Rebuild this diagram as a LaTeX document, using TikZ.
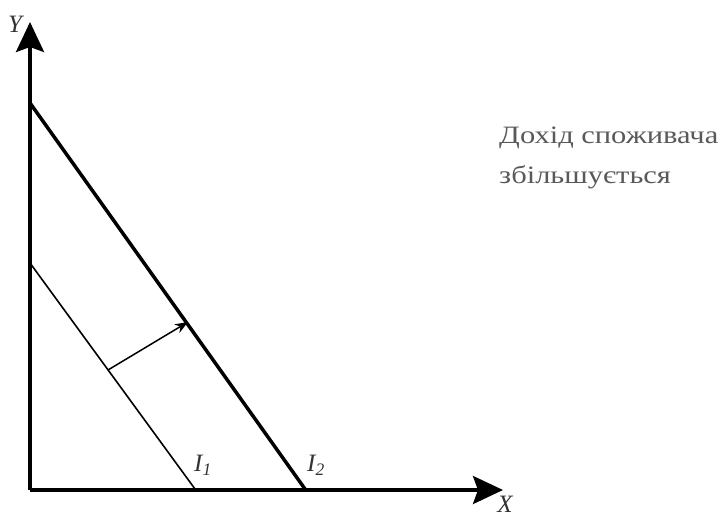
\documentclass[tikz,border=0pt]{standalone}
\usepackage{fontspec}
\setmainfont{Liberation Serif}
\newfontfamily\notefont[FakeStretch=1.22]{Liberation Serif}
\usetikzlibrary{arrows.meta}
\begin{document}
\begin{tikzpicture}[x=1pt,y=-1pt,
  axis/.style={line width=3.5pt,-{Stealth[length=30pt,width=28pt,inset=5pt]}},
  budget/.style={line width=1.6pt},
  budgetthick/.style={line width=3.5pt},
  shiftarrow/.style={line width=1.5pt,-{Stealth[length=13pt,width=10pt]}},
  lbl/.style={font=\itshape\fontsize{25}{25}\selectfont,text=black!80,inner sep=0pt},
  note/.style={font=\notefont\fontsize{25}{40}\selectfont,text=black!65,align=left,inner sep=0pt,anchor=north west}]
\useasboundingbox (0,0) rectangle (722,519);
\coordinate (O) at (30,490);
\coordinate (ytip) at (30,22);
\coordinate (xtip) at (503,490);
\draw[axis] (O) -- (ytip);
\draw[axis] (O) -- (xtip);
\coordinate (a1) at (30,263);
\coordinate (b1) at (195,489);
\coordinate (a2) at (30,103);
\coordinate (b2) at (305,489);
\draw[budget] (a1) -- (b1);
\draw[budgetthick] (a2) -- (b2);
\coordinate (s1) at (108,370);
\coordinate (s2) at (188,322);
\draw[shiftarrow] (s1) -- (s2);
\node[lbl] (ylab) at (15,24) {Y};
\node[lbl] (xlab) at (505,504) {X};
\node[lbl] (i1) at (203,465) {I\textsubscript{1}};
\node[lbl] (i2) at (316,465) {I\textsubscript{2}};
\node[note] (txt) at (499,127) {Дохід споживача\\збільшується};
\end{tikzpicture}
\end{document}
